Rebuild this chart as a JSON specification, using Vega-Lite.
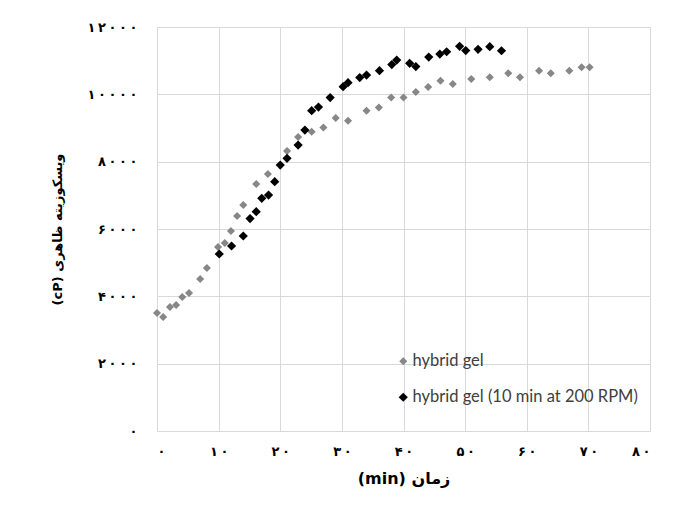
{
  "$schema": "https://vega.github.io/schema/vega-lite/v6.json",
  "width": 493,
  "height": 404,
  "autosize": {"type": "none"},
  "padding": {"left": 157, "top": 27, "right": 23, "bottom": 87},
  "background": "white",
  "config": {
    "view": {"stroke": "#d9d9d9", "strokeWidth": 1},
    "axis": {"gridColor": "#d9d9d9", "gridWidth": 1, "domain": false, "ticks": false}
  },
  "data": {
    "values": [
      {"series": "hybrid gel", "time": 0, "viscosity": 3505},
      {"series": "hybrid gel", "time": 1, "viscosity": 3386},
      {"series": "hybrid gel", "time": 2.1, "viscosity": 3683},
      {"series": "hybrid gel", "time": 3.1, "viscosity": 3742},
      {"series": "hybrid gel", "time": 4.1, "viscosity": 3980},
      {"series": "hybrid gel", "time": 5.2, "viscosity": 4099},
      {"series": "hybrid gel", "time": 7, "viscosity": 4515},
      {"series": "hybrid gel", "time": 8.1, "viscosity": 4841},
      {"series": "hybrid gel", "time": 9.9, "viscosity": 5465},
      {"series": "hybrid gel", "time": 11, "viscosity": 5584},
      {"series": "hybrid gel", "time": 12, "viscosity": 5940},
      {"series": "hybrid gel", "time": 13, "viscosity": 6386},
      {"series": "hybrid gel", "time": 14, "viscosity": 6712},
      {"series": "hybrid gel", "time": 16.1, "viscosity": 7336},
      {"series": "hybrid gel", "time": 18, "viscosity": 7633},
      {"series": "hybrid gel", "time": 21.1, "viscosity": 8316},
      {"series": "hybrid gel", "time": 22.9, "viscosity": 8732},
      {"series": "hybrid gel", "time": 25.1, "viscosity": 8889},
      {"series": "hybrid gel", "time": 27, "viscosity": 9014},
      {"series": "hybrid gel", "time": 29, "viscosity": 9296},
      {"series": "hybrid gel", "time": 31, "viscosity": 9216},
      {"series": "hybrid gel", "time": 34, "viscosity": 9513},
      {"series": "hybrid gel", "time": 36, "viscosity": 9608},
      {"series": "hybrid gel", "time": 38, "viscosity": 9905},
      {"series": "hybrid gel", "time": 40, "viscosity": 9905},
      {"series": "hybrid gel", "time": 42, "viscosity": 10068},
      {"series": "hybrid gel", "time": 44, "viscosity": 10217},
      {"series": "hybrid gel", "time": 46, "viscosity": 10404},
      {"series": "hybrid gel", "time": 48, "viscosity": 10306},
      {"series": "hybrid gel", "time": 51, "viscosity": 10454},
      {"series": "hybrid gel", "time": 54, "viscosity": 10505},
      {"series": "hybrid gel", "time": 57, "viscosity": 10624},
      {"series": "hybrid gel", "time": 58.9, "viscosity": 10505},
      {"series": "hybrid gel", "time": 62, "viscosity": 10701},
      {"series": "hybrid gel", "time": 63.9, "viscosity": 10624},
      {"series": "hybrid gel", "time": 66.9, "viscosity": 10701},
      {"series": "hybrid gel", "time": 68.9, "viscosity": 10802},
      {"series": "hybrid gel", "time": 70.2, "viscosity": 10802},
      {"series": "hybrid gel (10 min at 200 RPM)", "time": 10.1, "viscosity": 5257},
      {"series": "hybrid gel (10 min at 200 RPM)", "time": 12.1, "viscosity": 5495},
      {"series": "hybrid gel (10 min at 200 RPM)", "time": 14, "viscosity": 5792},
      {"series": "hybrid gel (10 min at 200 RPM)", "time": 15.1, "viscosity": 6311},
      {"series": "hybrid gel (10 min at 200 RPM)", "time": 16.1, "viscosity": 6513},
      {"series": "hybrid gel (10 min at 200 RPM)", "time": 17, "viscosity": 6911},
      {"series": "hybrid gel (10 min at 200 RPM)", "time": 18.1, "viscosity": 7009},
      {"series": "hybrid gel (10 min at 200 RPM)", "time": 19.1, "viscosity": 7404},
      {"series": "hybrid gel (10 min at 200 RPM)", "time": 20, "viscosity": 7900},
      {"series": "hybrid gel (10 min at 200 RPM)", "time": 21.1, "viscosity": 8099},
      {"series": "hybrid gel (10 min at 200 RPM)", "time": 22.9, "viscosity": 8494},
      {"series": "hybrid gel (10 min at 200 RPM)", "time": 24, "viscosity": 8940},
      {"series": "hybrid gel (10 min at 200 RPM)", "time": 25.1, "viscosity": 9513},
      {"series": "hybrid gel (10 min at 200 RPM)", "time": 26.2, "viscosity": 9623},
      {"series": "hybrid gel (10 min at 200 RPM)", "time": 28.1, "viscosity": 9905},
      {"series": "hybrid gel (10 min at 200 RPM)", "time": 30.2, "viscosity": 10226},
      {"series": "hybrid gel (10 min at 200 RPM)", "time": 31, "viscosity": 10345},
      {"series": "hybrid gel (10 min at 200 RPM)", "time": 32.9, "viscosity": 10499},
      {"series": "hybrid gel (10 min at 200 RPM)", "time": 34, "viscosity": 10573},
      {"series": "hybrid gel (10 min at 200 RPM)", "time": 36.1, "viscosity": 10701},
      {"series": "hybrid gel (10 min at 200 RPM)", "time": 38.1, "viscosity": 10885},
      {"series": "hybrid gel (10 min at 200 RPM)", "time": 38.9, "viscosity": 11019},
      {"series": "hybrid gel (10 min at 200 RPM)", "time": 41, "viscosity": 10921},
      {"series": "hybrid gel (10 min at 200 RPM)", "time": 42, "viscosity": 10826},
      {"series": "hybrid gel (10 min at 200 RPM)", "time": 44.1, "viscosity": 11108},
      {"series": "hybrid gel (10 min at 200 RPM)", "time": 45.9, "viscosity": 11197},
      {"series": "hybrid gel (10 min at 200 RPM)", "time": 47, "viscosity": 11265},
      {"series": "hybrid gel (10 min at 200 RPM)", "time": 49.1, "viscosity": 11426},
      {"series": "hybrid gel (10 min at 200 RPM)", "time": 50.1, "viscosity": 11301},
      {"series": "hybrid gel (10 min at 200 RPM)", "time": 52.1, "viscosity": 11336},
      {"series": "hybrid gel (10 min at 200 RPM)", "time": 54, "viscosity": 11414},
      {"series": "hybrid gel (10 min at 200 RPM)", "time": 55.9, "viscosity": 11295}
    ]
  },
  "mark": {"type": "point", "shape": "diamond", "filled": true, "opacity": 1},
  "encoding": {
    "x": {
      "field": "time",
      "type": "quantitative",
      "scale": {"domain": [0, 80], "nice": false},
      "axis": {
        "values": [0, 10, 20, 30, 40, 50, 60, 70, 80],
        "format": "d",
        "labelExpr": "replace(replace(replace(replace(replace(replace(replace(replace(replace(replace(replace(datum.label,/(\\d)(?=\\d)/g,'$1\u2009'),/0/g,'۰'),/1/g,'۱'),/2/g,'۲'),/3/g,'۳'),/4/g,'۴'),/5/g,'۵'),/6/g,'۶'),/7/g,'۷'),/8/g,'۸'),/9/g,'۹')",
        "labelFont": "DejaVu Sans",
        "labelFontWeight": "bold",
        "labelFontSize": 13,
        "labelColor": "#000000",
        "labelPadding": 14,
        "title": "(min) زمان",
        "titleFont": "DejaVu Sans",
        "titleFontWeight": "bold",
        "titleFontSize": 16,
        "titleColor": "#000000",
        "titlePadding": 12
      }
    },
    "y": {
      "field": "viscosity",
      "type": "quantitative",
      "scale": {"domain": [0, 12000], "nice": false},
      "axis": {
        "values": [0, 2000, 4000, 6000, 8000, 10000, 12000],
        "format": "d",
        "labelExpr": "replace(replace(replace(replace(replace(replace(replace(replace(replace(replace(replace(datum.label,/(\\d)(?=\\d)/g,'$1\u2009'),/0/g,'۰'),/1/g,'۱'),/2/g,'۲'),/3/g,'۳'),/4/g,'۴'),/5/g,'۵'),/6/g,'۶'),/7/g,'۷'),/8/g,'۸'),/9/g,'۹')",
        "labelFont": "DejaVu Sans",
        "labelFontWeight": "bold",
        "labelFontSize": 13,
        "labelColor": "#000000",
        "labelPadding": 20,
        "title": "(cP) ویسکوزیته ظاهری",
        "titleFont": "DejaVu Sans",
        "titleFontWeight": "bold",
        "titleFontSize": 13,
        "titleColor": "#000000",
        "titlePadding": 22
      }
    },
    "color": {
      "field": "series",
      "type": "nominal",
      "scale": {"domain": ["hybrid gel", "hybrid gel (10 min at 200 RPM)"], "range": ["#878787", "#000000"]},
      "legend": {
        "title": null,
        "orient": "none",
        "legendX": 238,
        "legendY": 326,
        "symbolType": "diamond",
        "symbolSize": 70,
        "labelFont": "Lato",
        "labelFontSize": 16.5,
        "labelColor": "#404040",
        "labelLimit": 400,
        "rowPadding": 19,
        "labelOffset": 1
      }
    },
    "size": {
      "field": "series",
      "type": "nominal",
      "scale": {"domain": ["hybrid gel", "hybrid gel (10 min at 200 RPM)"], "range": [65, 85]},
      "legend": null
    }
  }
}
